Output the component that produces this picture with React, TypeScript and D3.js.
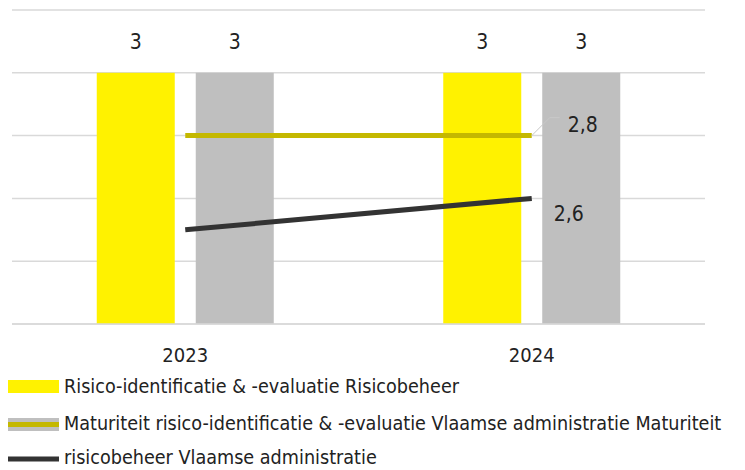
import React from "react";
import { scaleBand, scaleLinear, line } from "d3";

const categories = ["2023", "2024"];
const barSeriesNames = [
  "Risico-identificatie & -evaluatie Risicobeheer",
  "Maturiteit risico-identificatie & -evaluatie Vlaamse administratie Maturiteit",
];
const yellowBars = [3, 3];
const grayBars = [3, 3];
const olive = [2.8, 2.8];
const dark = [2.5, 2.6];
const lineSeriesName = "risicobeheer Vlaamse administratie";
const yTicks = [2.2, 2.4, 2.6, 2.8, 3.0, 3.2];

const W = 745;
const H = 470;
const LEFT = 12;
const RIGHT = 705;
const TOP = 10;
const BOTTOM = 324;
const FONT = "'Liberation Sans Narrow', 'DejaVu Sans Condensed', sans-serif";

const fmt = (v: number) => String(v).replace(".", ",");

export default function App() {
  const x = scaleBand<string>().domain(categories).range([LEFT, RIGHT]);
  const y = scaleLinear().domain([2.2, 3.2]).range([BOTTOM, TOP]);
  const barW = 78;
  const gap = 21;

  const lineFn = line<[string, number]>()
    .x(d => x(d[0])! + x.bandwidth() / 2)
    .y(d => y(d[1]));

  const olivePts = categories.map((c, i) => [c, olive[i]] as [string, number]);
  const darkPts = categories.map((c, i) => [c, dark[i]] as [string, number]);

  const lastX = x(categories[1])! + x.bandwidth() / 2;

  return (
    <svg
      width={W}
      height={H}
      style={{ position: "absolute", left: 0, top: 0, background: "#fff" }}
      fontFamily={FONT}
    >
      {yTicks.map(t => (
        <line
          key={t}
          x1={LEFT}
          x2={RIGHT}
          y1={y(t)}
          y2={y(t)}
          stroke="#d9d9d9"
          strokeWidth={1.5}
        />
      ))}

      {categories.map((c, i) => {
        const cx = x(c)! + x.bandwidth() / 2;
        const x1 = cx - gap / 2 - barW;
        const x2 = cx + gap / 2;
        return (
          <g key={c}>
            <rect x={x1} y={y(yellowBars[i])} width={barW} height={BOTTOM - y(yellowBars[i])} fill="#fff200" />
            <rect x={x2} y={y(grayBars[i])} width={barW} height={BOTTOM - y(grayBars[i])} fill="#bfbfbf" />
            <text x={x1 + barW / 2} y={y(yellowBars[i]) - 24} textAnchor="middle" fontSize={21} fill="#222">
              {fmt(yellowBars[i])}
            </text>
            <text x={x2 + barW / 2} y={y(grayBars[i]) - 24} textAnchor="middle" fontSize={21} fill="#222">
              {fmt(grayBars[i])}
            </text>
            <text x={cx} y={362} textAnchor="middle" fontSize={20} fill="#222">
              {c}
            </text>
          </g>
        );
      })}

      <line x1={LEFT} x2={RIGHT} y1={BOTTOM} y2={BOTTOM} stroke="#d9d9d9" strokeWidth={1.5} />

      <path d={lineFn(olivePts)!} stroke="#c4b800" strokeWidth={5} fill="none" />
      <path d={lineFn(darkPts)!} stroke="#333333" strokeWidth={5} fill="none" />

      <polyline
        points={`${lastX},${y(olive[1])} ${lastX + 18},${y(olive[1]) - 18} ${lastX + 28},${y(olive[1]) - 18}`}
        fill="none"
        stroke="#c8c8c8"
        strokeWidth={1}
      />
      <text x={lastX + 36} y={y(olive[1]) - 4} fontSize={21} fill="#222">
        {fmt(olive[1])}
      </text>
      <text x={lastX + 22} y={y(dark[1]) + 23} fontSize={21} fill="#222">
        {fmt(dark[1])}
      </text>

      <g fontSize={19.6} fill="#222">
        <rect x={8} y={380} width={51} height={13} fill="#fff200" />
        <text x={64} y={393}>{barSeriesNames[0]}</text>

        <rect x={8} y={418} width={51} height={13} fill="#bfbfbf" />
        <line x1={8} x2={59} y1={424.5} y2={424.5} stroke="#c4b800" strokeWidth={5} />
        <text x={64} y={430}>{barSeriesNames[1]}</text>

        <line x1={8} x2={59} y1={459} y2={459} stroke="#333333" strokeWidth={5} />
        <text x={64} y={464}>{lineSeriesName}</text>
      </g>
    </svg>
  );
}
